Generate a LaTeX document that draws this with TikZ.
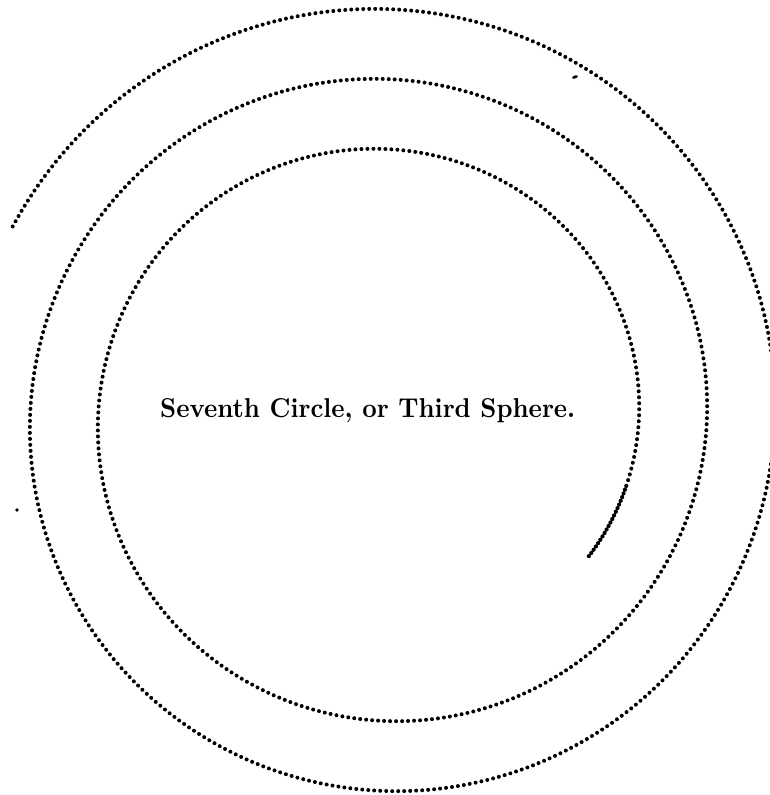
\documentclass[tikz,border=0pt]{standalone}
\usepackage{tikz}
\usetikzlibrary{positioning}

\begin{document}
\begin{tikzpicture}[
    x=1pt,y=-1pt,
    dots/.style={line width=4pt,line cap=round,dash pattern=on 0pt off 6pt,draw=black},
    tail/.style={line width=4.2pt,line cap=round,dash pattern=on 0pt off 4pt,draw=black},
    label/.style={inner sep=0pt,anchor=base west,font=\bfseries}
]
    \useasboundingbox (0,0) rectangle (770,795);
    \clip (0,0) rectangle (770,795);

    % the spiral: three turns, shrinking about 68pt a turn
    \draw[dots] plot[domain=207:1096,samples=600,variable=\t]
        ({385.5+(389.5-(\t-360)*0.1889)*cos(\t)},{417.5+(408.5-(\t-270)*0.1944)*sin(\t)});
    \draw[tail] plot[domain=1096:1115,samples=20,variable=\t]
        ({385.5+(389.5-(\t-360)*0.1889)*cos(\t)},{417.5+(408.5-(\t-270)*0.1944)*sin(\t)});

    % specks of the print
    \fill (17,510) circle (1.8pt);
    \fill[rotate around={20:(575,77)}] (575,77) ellipse (3pt and 1.5pt);

    \node[label] (title) at (160,417) {\resizebox{415pt}{19pt}{Seventh Circle, or Third Sphere.}};
\end{tikzpicture}
\end{document}
